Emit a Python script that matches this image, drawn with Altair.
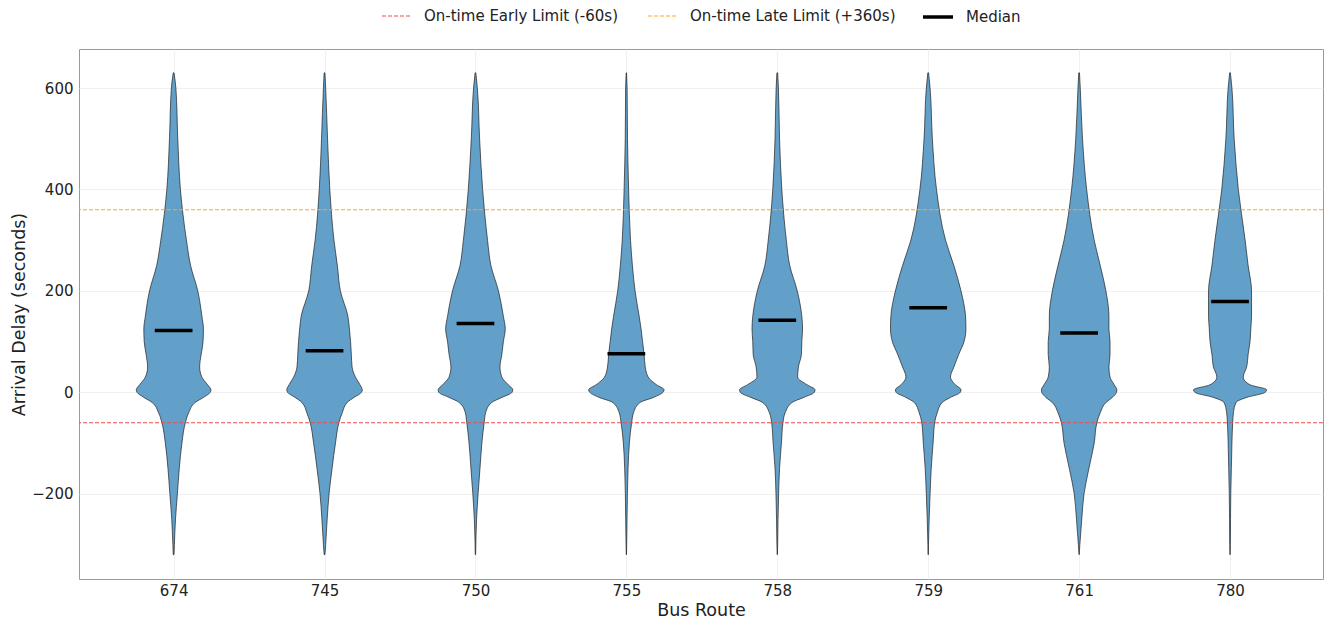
import json
import altair as alt
import pandas as pd

# ---------------- data ----------------
routes = ["674", "745", "750", "755", "758", "759", "761", "780"]

# delay levels (seconds) at which the violin outline was read
levels = [630, 600, 500, 400, 300, 250, 200, 150, 125, 100, 75, 50, 30, 15, 5, 0,
          -10, -20, -40, -60, -100, -150, -200, -250, -300, -320]

# relative density (1.0 = widest part of a violin) at each level, per route
dens_674 = [0.01, 0.06, 0.11, 0.18, 0.34, 0.45, 0.64, 0.75, 0.79, 0.78, 0.73, 0.69, 0.75, 0.90, 0.99, 0.97,
            0.79, 0.57, 0.40, 0.31, 0.22, 0.15, 0.10, 0.05, 0.02, 0.01]
dens_745 = [0.01, 0.03, 0.08, 0.14, 0.25, 0.34, 0.42, 0.62, 0.66, 0.69, 0.71, 0.73, 0.82, 0.94, 1.00, 0.98,
            0.78, 0.60, 0.47, 0.38, 0.29, 0.20, 0.12, 0.07, 0.03, 0.01]
dens_750 = [0.01, 0.05, 0.11, 0.19, 0.32, 0.41, 0.61, 0.74, 0.79, 0.74, 0.70, 0.65, 0.70, 0.87, 0.99, 0.97,
            0.70, 0.43, 0.27, 0.23, 0.17, 0.12, 0.07, 0.03, 0.01, 0.005]
dens_755 = [0.005, 0.02, 0.03, 0.06, 0.11, 0.16, 0.23, 0.34, 0.39, 0.43, 0.47, 0.50, 0.58, 0.80, 1.00, 0.97,
            0.72, 0.36, 0.19, 0.14, 0.08, 0.045, 0.027, 0.018, 0.008, 0.003]
dens_758 = [0.01, 0.03, 0.06, 0.12, 0.24, 0.33, 0.53, 0.65, 0.67, 0.65, 0.64, 0.56, 0.54, 0.79, 1.00, 0.98,
            0.70, 0.39, 0.21, 0.15, 0.11, 0.06, 0.035, 0.02, 0.01, 0.003]
dens_759 = [0.01, 0.05, 0.11, 0.22, 0.46, 0.68, 0.87, 0.99, 1.00, 0.95, 0.81, 0.68, 0.59, 0.72, 0.87, 0.85,
            0.59, 0.37, 0.24, 0.17, 0.13, 0.08, 0.05, 0.026, 0.008, 0.003]
dens_761 = [0.01, 0.03, 0.09, 0.20, 0.40, 0.56, 0.71, 0.79, 0.79, 0.82, 0.82, 0.79, 0.82, 0.93, 1.00, 0.99,
            0.88, 0.71, 0.56, 0.47, 0.40, 0.26, 0.13, 0.07, 0.02, 0.003]
dens_780 = [0.01, 0.05, 0.11, 0.22, 0.40, 0.48, 0.57, 0.57, 0.55, 0.53, 0.48, 0.44, 0.35, 0.53, 0.97, 0.93,
            0.44, 0.16, 0.09, 0.07, 0.05, 0.035, 0.02, 0.013, 0.008, 0.003]

medians = [122, 82, 136, 76, 142, 167, 117, 179]

early_limit = -60
late_limit = 360
limit_labels = ["On-time Early Limit (-60s)", "On-time Late Limit (+360s)"]
median_label = "Median"

# ---------------- tables ----------------
densities = [dens_674, dens_745, dens_750, dens_755, dens_758, dens_759, dens_761, dens_780]
rows = []
for i, (r, dens) in enumerate(zip(routes, densities)):
    for lv, d in zip(levels, dens):
        rows.append({"route": r, "idx": i, "delay": lv, "density": d})
violin_df = pd.DataFrame(rows)

median_df = pd.DataFrame({"route": routes, "idx": list(range(len(routes))),
                          "median": medians, "stat": median_label})
limit_df = pd.DataFrame({"limit": limit_labels, "y": [early_limit, late_limit]})

FONT = "DejaVu Sans"
label_expr = json.dumps(routes) + "[datum.value]"

x_scale = alt.Scale(domain=[-0.627, 7.616], nice=False, zero=False)
y_scale = alt.Scale(domain=[-368, 677], nice=False, zero=False)

x_axis = alt.Axis(values=list(range(len(routes))), labelExpr=label_expr, title="Bus Route",
                  ticks=False, labelPadding=4, titlePadding=3)
y_axis = alt.Axis(values=[-200, 0, 200, 400, 600], title="Arrival Delay (seconds)",
                  ticks=False, labelPadding=6, titlePadding=3)

half_violin = 0.25   # matplotlib violin width 0.5
half_median = 0.125

legend_common = dict(title=None, orient="none", direction="horizontal", legendY=-49,
                     symbolType="stroke", symbolSize=900, labelFontSize=15, labelFont=FONT,
                     labelFontWeight="normal", labelColor="#222",
                     labelOffset=11, columnPadding=26, padding=0, labelLimit=0)
limit_legend = alt.Legend(legendX=302, symbolDash=[4, 2], symbolStrokeWidth=1.2, **legend_common)
median_legend = alt.Legend(legendX=842, symbolStrokeWidth=3.5, **legend_common)

violins = alt.Chart(violin_df).transform_calculate(
    xl=f"datum.idx - datum.density * {half_violin}",
    xr=f"datum.idx + datum.density * {half_violin}",
).mark_area(orient="horizontal", interpolate="monotone", fill="#62a0ca", fillOpacity=1,
            stroke="#1a1a1a", strokeWidth=0.8, strokeOpacity=0.85).encode(
    y=alt.Y("delay:Q", scale=y_scale, axis=y_axis),
    x=alt.X("xl:Q", scale=x_scale, axis=x_axis),
    x2="xr:Q",
    detail="route:N",
)

limits = alt.Chart(limit_df).mark_rule(strokeWidth=1.1).encode(
    y=alt.Y("y:Q", scale=y_scale),
    color=alt.Color("limit:N", scale=alt.Scale(domain=limit_labels, range=["#ee4b4b", "#ffa624"]),
                    legend=limit_legend),
    strokeDash=alt.StrokeDash("limit:N", scale=alt.Scale(domain=limit_labels, range=[[4, 2], [4, 2]]),
                              legend=None),
)

median_marks = alt.Chart(median_df).transform_calculate(
    xl=f"datum.idx - {half_median}",
    xr=f"datum.idx + {half_median}",
).mark_rule(strokeWidth=3.5).encode(
    y=alt.Y("median:Q", scale=y_scale),
    x=alt.X("xl:Q", scale=x_scale),
    x2="xr:Q",
    stroke=alt.Stroke("stat:N", scale=alt.Scale(domain=[median_label], range=["#000000"]),
                      legend=median_legend),
)

chart = alt.layer(violins, limits, median_marks).resolve_scale(
    color="independent", stroke="independent",
).properties(
    width=1244, height=530,
    autosize=alt.AutoSizeParams(type="none"),
    padding={"left": 79, "top": 49, "right": 3, "bottom": 44},
).configure(
    font=FONT,
).configure_view(
    stroke="#9a9a9a", strokeWidth=1,
).configure_axis(
    labelFont=FONT, titleFont=FONT, labelFontSize=15, titleFontSize=17.5,
    labelColor="#222", titleColor="#222", titleFontWeight="normal",
    grid=True, gridColor="#ececec", gridWidth=0.8, domain=False,
)

chart.save("out.html", embed_options={"renderer": "svg", "actions": False})
